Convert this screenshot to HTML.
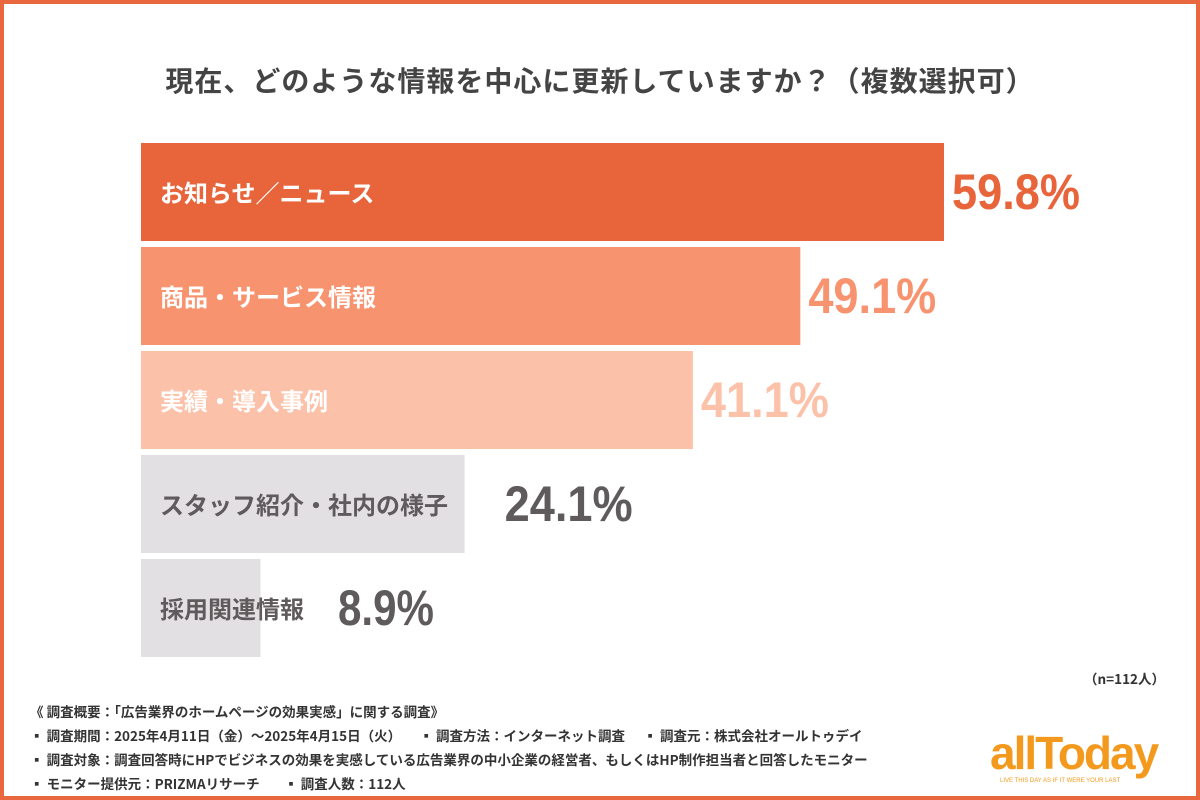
<!DOCTYPE html>
<html><head><meta charset="utf-8">
<style>
body{margin:0;width:1200px;height:800px;overflow:hidden;background:#fff;font-family:"Liberation Sans","Noto Sans CJK JP",sans-serif;}
#frame{position:absolute;left:0;top:0;width:1192px;height:792px;border:4px solid #E8673F;background:#fff}
#title{position:absolute;left:0;width:1200px;top:60px;text-align:center;font-size:28px;font-weight:bold;color:#444;font-family:"Noto Sans CJK JP",sans-serif;letter-spacing:1px}
.foot{position:absolute;left:30px;font-size:13.5px;font-weight:bold;color:#333;font-family:"Noto Sans CJK JP",sans-serif;white-space:pre}
</style></head><body>
<div id="frame"></div>
<div id="title">現在、どのような情報を中心に更新していますか？（複数選択可）</div>
<svg id="chart" width="1200" height="800" style="position:absolute;left:0;top:0"></svg>
<div class="foot" style="left:1084px;top:668px">（n=112人）</div>
<div class="foot" style="top:701px">《 調査概要：「広告業界のホームページの効果実感」に関する調査》</div>
<div class="foot" style="top:725px">▪ 調査期間：2025年4月11日（金）～2025年4月15日（火）      ▪ 調査方法：インターネット調査      ▪ 調査元：株式会社オールトゥデイ</div>
<div class="foot" style="top:749px">▪ 調査対象：調査回答時にHPでビジネスの効果を実感している広告業界の中小企業の経営者、もしくはHP制作担当者と回答したモニター</div>
<div class="foot" style="top:773px">▪ モニター提供元：PRIZMAリサーチ        ▪ 調査人数：112人</div>
<div style="position:absolute;left:990px;top:730px;font-size:46px;font-weight:bold;color:#F39A1E;letter-spacing:-2px;line-height:46px">allToday</div>
<div style="position:absolute;left:1000px;top:778px;font-size:6px;color:#F39A1E">LIVE THIS DAY AS IF IT WERE YOUR LAST</div>
<script>
const categories=["お知らせ／ニュース","商品・サービス情報","実績・導入事例","スタッフ紹介・社内の様子","採用関連情報"];
const values=[59.8,49.1,41.1,24.1,8.9];
const valueLabels=["59.8%","49.1%","41.1%","24.1%","8.9%"];
const barColors=["#E8643A","#F7946F","#FCC1A9","#E3E0E3","#E3E0E3"];
const textColors=["#fff","#fff","#fff","#5f5a5c","#5f5a5c"];
const valColors=["#E8643A","#F7946F","#FCC1A9","#5f5a5c","#5f5a5c"];
const NS="http://www.w3.org/2000/svg";
const svg=document.getElementById('chart');
const x0=141,scale=803/59.8;
const xw=v=>v*scale;
const yb=i=>143+i*104;
categories.forEach((c,i)=>{
  const r=document.createElementNS(NS,'rect');
  
  
  r.setAttribute('x',x0);r.setAttribute('y',yb(i));r.setAttribute('width',xw(values[i]));r.setAttribute('height',98);r.setAttribute('fill',barColors[i]);
  svg.appendChild(r);
  const t=document.createElementNS(NS,'text');
  
  
  t.setAttribute('x',160);t.setAttribute('y',yb(i)+59);t.setAttribute('font-size','24');t.setAttribute('font-weight','bold');
  t.setAttribute('fill',textColors[i]);t.setAttribute('font-family','"Noto Sans CJK JP",sans-serif');
  t.textContent=c;svg.appendChild(t);
  const tx=(i===4)?338:x0+xw(values[i])+(i===3?40:8);
  const v=document.createElementNS(NS,'text');
  
  
  v.setAttribute('x',tx);v.setAttribute('y',yb(i)+66);v.setAttribute('font-size','50');v.setAttribute('font-weight','bold');
  v.setAttribute('fill',valColors[i]);v.setAttribute('textLength',valueLabels[i].length===5?128:96);v.setAttribute('lengthAdjust','spacingAndGlyphs');
  v.textContent=valueLabels[i];svg.appendChild(v);
});
</script>
</body></html>
